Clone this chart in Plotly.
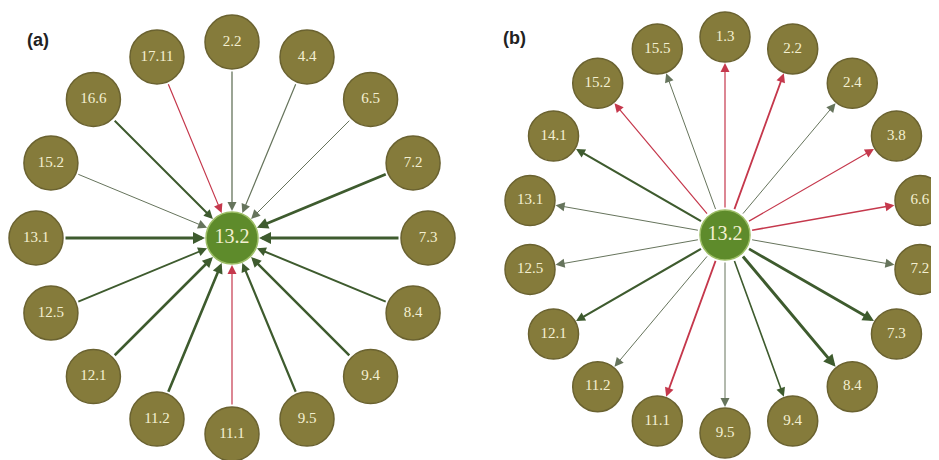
import math
import plotly.graph_objects as go

# ---------------- data ----------------
center_label = "13.2"

# panel (a): nodes clockwise from top, links point INTO the centre
labels_a = ["2.2", "4.4", "6.5", "7.2", "7.3", "8.4", "9.4", "9.5",
            "11.1", "11.2", "12.1", "12.5", "13.1", "15.2", "16.6", "17.11"]
weight_a = [1.3, 1.2, 1.0, 2.8, 3.0, 2.0, 2.5, 2.2,
            1.2, 2.6, 2.6, 1.8, 3.0, 1.0, 2.0, 1.2]
sign_a = [1, 1, 1, 1, 1, 1, 1, 1,
          -1, 1, 1, 1, 1, 1, 1, -1]

# panel (b): nodes clockwise from top, links point OUT of the centre
labels_b = ["1.3", "2.2", "2.4", "3.8", "6.6", "7.2", "7.3", "8.4", "9.4",
            "9.5", "11.1", "11.2", "12.1", "12.5", "13.1", "14.1", "15.2", "15.5"]
weight_b = [1.2, 1.8, 1.0, 1.2, 1.5, 1.0, 2.8, 3.0, 1.6,
            1.0, 1.8, 1.0, 2.2, 1.0, 1.0, 2.2, 1.2, 1.0]
sign_b = [-1, -1, 1, -1, -1, 1, 1, 1, 1,
          1, -1, 1, 1, 1, 1, 1, -1, 1]

# ---------------- layout constants ----------------
W, H = 939, 460
PAD = 8  # default page body margin
NODE_FILL = "#857b3b"
NODE_LINE = "#6a6230"
CENTER_FILL = "#5e8b2b"
CENTER_LINE = "#9cbd66"
TEXT_COL = "#f4f0d2"
POS_COL = "#3e5b2e"
POS_THIN = "#66745c"
NEG_COL = "#c5384c"

panels = [
    dict(labels=labels_a, w=weight_a, s=sign_a, cx=232, cy=238, r=196,
         node_d=54, center_d=52, inward=True, tag="(a)", tx=38, ty=40),
    dict(labels=labels_b, w=weight_b, s=sign_b, cx=725, cy=235, r=198,
         node_d=50, center_d=50, inward=False, tag="(b)", tx=514, ty=38),
]

fig = go.Figure()
annotations = []

for p in panels:
    n = len(p["labels"])
    xs, ys = [], []
    for i in range(n):
        ang = math.pi / 2 - 2 * math.pi * i / n
        xs.append(p["cx"] + p["r"] * math.cos(ang))
        ys.append(p["cy"] - p["r"] * math.sin(ang))

    # links as arrows
    for i in range(n):
        wdt = p["w"][i]
        if p["s"][i] < 0:
            col = NEG_COL
        else:
            col = POS_COL if wdt >= 1.5 else POS_THIN
        if p["inward"]:
            hx, hy, tx, ty = p["cx"], p["cy"], xs[i], ys[i]
            hs, ts = p["center_d"] / 2 + 1, p["node_d"] / 2 + 1
        else:
            hx, hy, tx, ty = xs[i], ys[i], p["cx"], p["cy"]
            hs, ts = p["node_d"] / 2 + 1, p["center_d"] / 2 + 1
        annotations.append(dict(
            x=hx, y=hy, ax=tx, ay=ty, xref="x", yref="y", axref="x", ayref="y",
            showarrow=True, arrowhead=2, arrowwidth=wdt,
            arrowsize=max(0.8, 1.8 / wdt), arrowcolor=col,
            standoff=hs, startstandoff=ts, text=""))

    # outer nodes
    fig.add_trace(go.Scatter(
        x=xs, y=ys, mode="markers+text", text=p["labels"],
        textposition="middle center",
        textfont=dict(family="Liberation Serif", size=15, color=TEXT_COL),
        marker=dict(size=p["node_d"], color=NODE_FILL,
                    line=dict(color=NODE_LINE, width=1.5)),
        hoverinfo="text", showlegend=False, cliponaxis=False))
    # centre node
    fig.add_trace(go.Scatter(
        x=[p["cx"]], y=[p["cy"]], mode="markers+text", text=[center_label],
        textposition="middle center",
        textfont=dict(family="Liberation Serif", size=20, color=TEXT_COL),
        marker=dict(size=p["center_d"], color=CENTER_FILL,
                    line=dict(color=CENTER_LINE, width=1.5)),
        hoverinfo="text", showlegend=False, cliponaxis=False))

    annotations.append(dict(
        x=p["tx"], y=p["ty"], xref="x", yref="y", text="<b>" + p["tag"] + "</b>",
        showarrow=False, font=dict(family="Liberation Sans", size=18, color="#222222")))

fig.update_layout(
    width=W - PAD, height=H - PAD, margin=dict(l=0, r=0, t=0, b=0),
    paper_bgcolor="white", plot_bgcolor="white",
    xaxis=dict(range=[PAD, W], visible=False, fixedrange=True),
    yaxis=dict(range=[H, PAD], visible=False, fixedrange=True),
    annotations=annotations,
)

fig.write_html("out.html")
